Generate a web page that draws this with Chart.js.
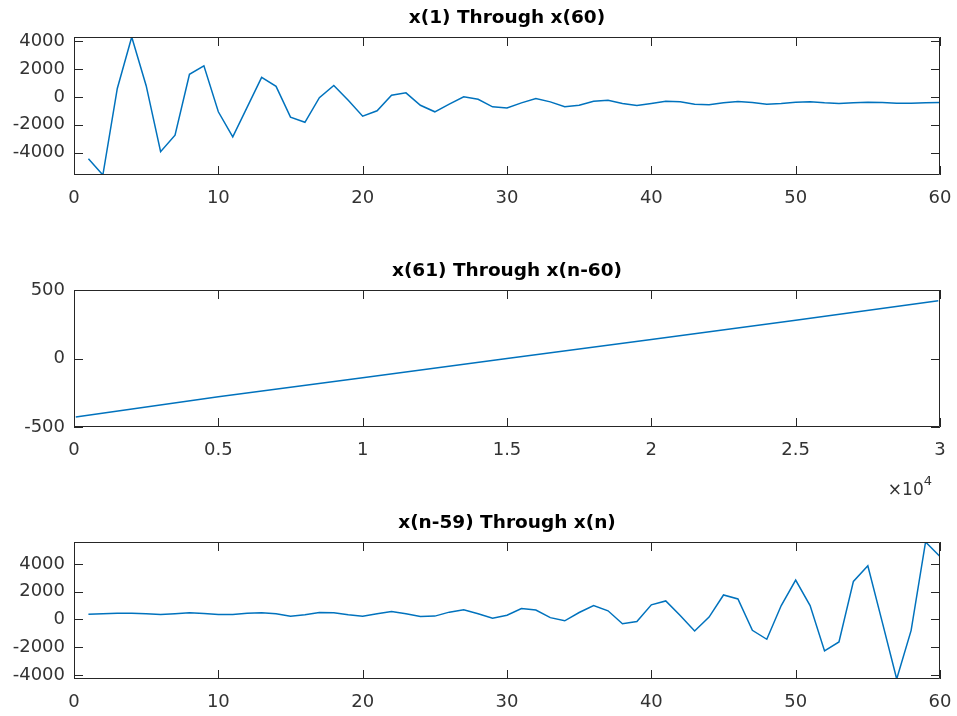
<!DOCTYPE html>
<html>
<head>
<meta charset="utf-8">
<script src="https://cdn.jsdelivr.net/npm/chart.js@4.4.1/dist/chart.umd.min.js"></script>
<style>
  body { margin: 0; background: #fff; }
  canvas { position: absolute; left: 0; }
</style>
</head>
<body>
<canvas id="c1" width="957" height="215" style="top:0px"></canvas>
<canvas id="c2" width="957" height="250" style="top:250px"></canvas>
<canvas id="c3" width="957" height="216" style="top:500px"></canvas>
<script>
// x(1) .. x(60)
const firstValues = [
  -4430, -5595, 600, 4286, 800, -3930, -2740, 1620, 2220, -1070,
  -2870, -740, 1400, 750, -1450, -1820, -60, 820, -250, -1380,
  -1000, 120, 290, -600, -1070, -520, 0, -170, -714, -800,
  -430, -120, -360, -714, -595, -310, -240, -476, -619, -476,
  -310, -357, -524, -571, -428, -333, -405, -524, -476, -380,
  -357, -428, -476, -428, -380, -405, -452, -452, -428, -405
];

// x(61) .. x(n-60), read at a few sample indices
const midIndex = [61, 5000, 10000, 15000, 20000, 25000, 29940];
const midValues = [-427, -280, -141, 0, 139, 280, 422];

// x(n-59) .. x(n)
const lastValues = [
  380, 405, 452, 452, 405, 357, 405, 476, 428, 357,
  357, 452, 476, 405, 238, 333, 500, 476, 333, 238,
  405, 571, 405, 214, 238, 524, 700, 405, 80, 300,
  790, 680, 130, -100, 500, 1000, 620, -310, -150, 1047,
  1330, 286, -833, 167, 1760, 1476, -786, -1428, 1000, 2833,
  1000, -2262, -1619, 2738, 3857, -190, -4286, -786, 5571, 4524
];

const edgeXTicks = [0, 10, 20, 30, 40, 50, 60];
const edgeYTicks = [-4000, -2000, 0, 2000, 4000];
const midXTicks = [0, 5000, 10000, 15000, 20000, 25000, 30000];
const midXLabels = ["0", "0.5", "1", "1.5", "2", "2.5", "3"];
const midYTicks = [-500, 0, 500];

const FONT = "'DejaVu Sans', sans-serif";
const AXIS = "#262626";

// MATLAB style box with inward ticks on all four sides
const axesBox = {
  id: "axesBox",
  afterDatasetsDraw(chart) {
    const { ctx, chartArea: a, scales: { x, y } } = chart;
    ctx.save();
    ctx.strokeStyle = AXIS;
    ctx.lineWidth = 1;
    ctx.beginPath();
    x.ticks.forEach((t) => {
      const p = Math.round(x.getPixelForValue(t.value)) + 0.5;
      ctx.moveTo(p, a.bottom); ctx.lineTo(p, a.bottom - 9);
      ctx.moveTo(p, a.top); ctx.lineTo(p, a.top + 9);
    });
    y.ticks.forEach((t) => {
      const p = Math.round(y.getPixelForValue(t.value)) + 0.5;
      ctx.moveTo(a.left, p); ctx.lineTo(a.left + 9, p);
      ctx.moveTo(a.right, p); ctx.lineTo(a.right - 9, p);
    });
    ctx.rect(a.left + 0.5, a.top + 0.5, a.right - a.left - 1, a.bottom - a.top - 1);
    ctx.stroke();
    ctx.restore();
  },
};

// exponent label under the middle plot
const expLabel = {
  id: "expLabel",
  afterDraw(chart) {
    const { ctx, chartArea: a } = chart;
    ctx.save();
    ctx.fillStyle = "#333";
    ctx.textAlign = "right";
    ctx.textBaseline = "alphabetic";
    ctx.font = "13px " + FONT;
    ctx.fillText("4", a.right - 8, a.bottom + 58);
    const w4 = ctx.measureText("4").width;
    ctx.font = "17px " + FONT;
    ctx.fillText("×10", a.right - 8 - w4, a.bottom + 68);
    ctx.restore();
  },
};

function makeChart(id, points, cfg) {
  const canvas = document.getElementById(id);
  return new Chart(canvas.getContext("2d"), {
    type: "line",
    data: {
      datasets: [{
        data: points,
        borderColor: "#0072BD",
        borderWidth: 1.5,
        pointRadius: 0,
        tension: 0,
        fill: false,
      }],
    },
    options: {
      responsive: false,
      animation: false,
      layout: { padding: { left: 0, right: 17, top: 0, bottom: 0 } },
      scales: {
        x: {
          type: "linear",
          min: cfg.xMin,
          max: cfg.xMax,
          afterBuildTicks: (s) => { s.ticks = cfg.xTicks.map((v) => ({ value: v })); },
          afterFit: (s) => {
            s.height = canvas.height - cfg.bottom;
            s.paddingLeft = 0;
            s.paddingRight = 0;
          },
          grid: { display: false, drawTicks: false },
          border: { display: false },
          ticks: {
            padding: 13,
            maxRotation: 0,
            color: "#333",
            font: { family: FONT, size: 18 },
            callback: (v, i) => (cfg.xLabels ? cfg.xLabels[i] : String(v)),
          },
        },
        y: {
          min: cfg.yMin,
          max: cfg.yMax,
          afterBuildTicks: (s) => { s.ticks = cfg.yTicks.map((v) => ({ value: v })); },
          afterFit: (s) => {
            s.width = 74;
            s.paddingTop = 0;
            s.paddingBottom = 0;
          },
          grid: { display: false, drawTicks: false },
          border: { display: false },
          ticks: {
            padding: 9,
            color: "#333",
            font: { family: FONT, size: 18 },
            callback: (v) => String(v),
          },
        },
      },
      plugins: {
        legend: { display: false },
        tooltip: { enabled: false },
        title: {
          display: true,
          text: cfg.title,
          fullSize: false,
          color: "#000",
          font: { family: FONT, size: 18.5, weight: "bold", lineHeight: 1 },
          padding: { top: cfg.padTop, bottom: cfg.padBottom },
        },
      },
    },
    plugins: cfg.extra ? [axesBox, cfg.extra] : [axesBox],
  });
}

makeChart("c1", firstValues.map((v, i) => ({ x: i + 1, y: v })), {
  title: "x(1) Through x(60)",
  xMin: 0, xMax: 60, xTicks: edgeXTicks,
  yMin: Math.min(...firstValues), yMax: Math.max(...firstValues), yTicks: edgeYTicks,
  padTop: 9.25, padBottom: 9.25, bottom: 175,
});

makeChart("c2", midIndex.map((v, i) => ({ x: v, y: midValues[i] })), {
  title: "x(61) Through x(n-60)",
  xMin: 0, xMax: 30000, xTicks: midXTicks, xLabels: midXLabels,
  yMin: -500, yMax: 500, yTicks: midYTicks,
  padTop: 11.75, padBottom: 9.75, bottom: 177,
  extra: expLabel,
});

makeChart("c3", lastValues.map((v, i) => ({ x: i + 1, y: v })), {
  title: "x(n-59) Through x(n)",
  xMin: 0, xMax: 60, xTicks: edgeXTicks,
  yMin: Math.min(...lastValues), yMax: Math.max(...lastValues), yTicks: edgeYTicks,
  padTop: 13.75, padBottom: 9.75, bottom: 179,
});
</script>
</body>
</html>
